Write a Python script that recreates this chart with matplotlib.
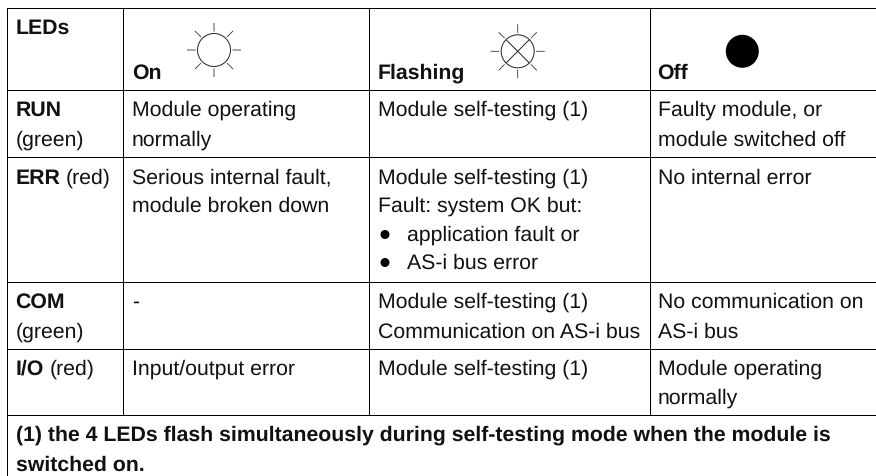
import matplotlib
matplotlib.use("Agg")
import matplotlib.pyplot as plt
from matplotlib.patches import Circle
import math

plt.rcParams['font.family'] = ['Liberation Sans', 'DejaVu Sans']
plt.rcParams['text.hinting'] = 'none'

FS = 15.3
FS_BOLD = 15.3
W, H = 876, 476
INK = '#111111'

# table text: (text, column, baseline row)
col_x = [15.5, 132, 377.5, 657.5]
header = [("LEDs", 0, 34), ("On", 1, 79), ("Flashing", 2, 79), ("Off", 3, 79)]
row_names = [("RUN", 0, 116), ("ERR", 0, 183.5), ("COM", 0, 308), ("I/O", 0, 374.5)]
row_notes = [("(green)", 15.5, 146), ("(red)", 66, 183.5), ("(green)", 15.5, 337.5), ("(red)", 49.5, 374.5)]
cells = [
    ("Module operating", 1, 116), ("normally", 1, 146),
    ("Module self-testing (1)", 2, 116),
    ("Faulty module, or", 3, 116), ("module switched off", 3, 146),
    ("Serious internal fault,", 1, 183.5), ("module broken down", 1, 212),
    ("Module self-testing (1)", 2, 183.5), ("Fault: system OK but:", 2, 212),
    ("No internal error", 3, 183.5),
    ("-", 1, 308),
    ("Module self-testing (1)", 2, 308), ("Communication on AS-i bus", 2, 337.5),
    ("No communication on", 3, 308), ("AS-i bus", 3, 337.5),
    ("Input/output error", 1, 374.5),
    ("Module self-testing (1)", 2, 374.5),
    ("Module operating", 3, 374.5), ("normally", 3, 403.5),
]
bullets = [("application fault or", 241), ("AS-i bus error", 269)]
footnote = [("(1) the 4 LEDs flash simultaneously during self-testing mode when the module is", 441),
            ("switched on.", 470.5)]

h_lines = [8.5, 90.5, 157.5, 282.5, 349.5, 415.5]
table_v = [123.5, 369.5, 650.5]
LEFT = 7.5


def hair(ax, xs, ys, color='black', lw=0.72):
    ax.plot(xs, ys, color=color, lw=lw, snap=False, solid_capstyle='butt')


def sun(ax, cx, cy, r=16.5, cross=False):
    ax.add_patch(Circle((cx, cy), r, fill=False, ec='#222222', lw=0.7))
    for k in range(8):
        a = k * math.pi / 4
        hair(ax, [cx + 18.5 * math.cos(a), cx + 27 * math.cos(a)],
             [cy + 18.5 * math.sin(a), cy + 27 * math.sin(a)], '#333333', 0.6)
    if cross:
        d = r * math.cos(math.pi / 4)
        hair(ax, [cx - d, cx + d], [cy - d, cy + d], '#222222', 0.7)
        hair(ax, [cx - d, cx + d], [cy + d, cy - d], '#222222', 0.7)


fig = plt.figure(figsize=(W / 100, H / 100), dpi=100)
ax = fig.add_axes([0, 0, 1, 1])
ax.set_xlim(0, W)
ax.set_ylim(H, 0)
ax.axis('off')

for y in h_lines:
    hair(ax, [LEFT, W], [y, y])
hair(ax, [LEFT, LEFT], [8.1, H])
for x in table_v:
    hair(ax, [x, x], [8.1, 415.5])

for txt, c, y in header + row_names:
    ax.text(col_x[c], y, txt, fontsize=FS_BOLD, fontweight='bold', va='baseline', color=INK)
for txt, x, y in row_notes:
    ax.text(x, y, txt, fontsize=FS, va='baseline', color=INK)
for txt, c, y in cells:
    ax.text(col_x[c], y, txt, fontsize=FS, va='baseline', color=INK)
for txt, y in bullets:
    ax.add_patch(Circle((385, y - 6.5), 4.5, color='black', lw=0))
    ax.text(407, y, txt, fontsize=FS, va='baseline', color=INK)
for txt, y in footnote:
    ax.text(15.5, y, txt, fontsize=FS_BOLD, fontweight='bold', va='baseline', color=INK)

sun(ax, 214, 50)
sun(ax, 517.7, 51.3, cross=True)
ax.add_patch(Circle((742.3, 51.3), 16.5, color='black', lw=0))

fig.savefig('out.png', dpi=100)
